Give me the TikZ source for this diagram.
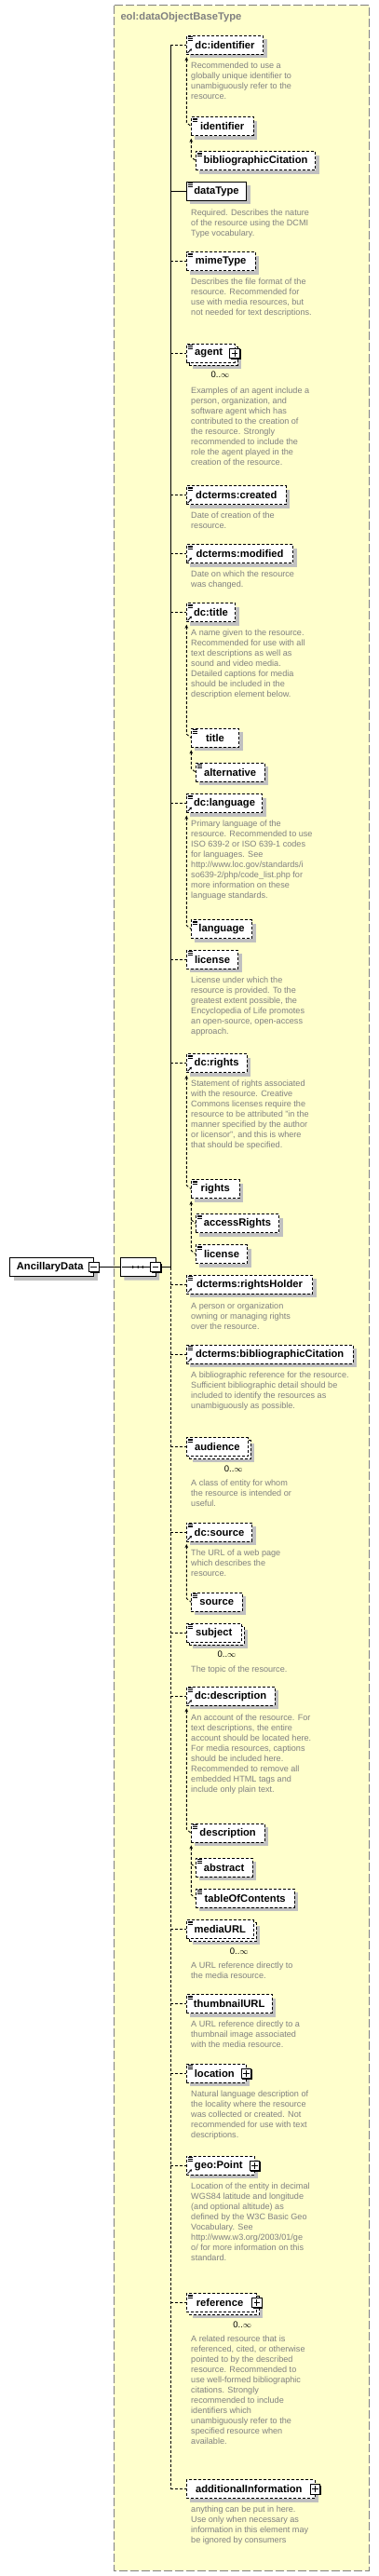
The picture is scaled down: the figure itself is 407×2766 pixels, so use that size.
\documentclass[tikz,border=0pt]{standalone}
\usepackage{fontspec}
\setmainfont{Liberation Sans}
\usetikzlibrary{positioning,calc,shadows,shapes.misc,arrows.meta}
\definecolor{typeyellow}{RGB}{255,255,204}
\definecolor{framegray}{RGB}{128,128,128}
\definecolor{docgray}{RGB}{128,128,128}
\definecolor{shadowgray}{RGB}{192,192,192}
\newcommand\elemfont{\fontsize{11.2}{13}\selectfont\bfseries}
\newcommand\docfont{\fontsize{9.1}{11}\selectfont}

\begin{document}
\begin{tikzpicture}[x=1pt,y=-1pt,
    elembase/.style={draw, fill=white, anchor=west, font=\elemfont, minimum height=20pt,
        inner sep=0pt, outer sep=0pt, line width=0.9pt, dash pattern=on 3pt off 2pt},
    elem/.style={elembase, minimum width=#1,
        drop shadow={shadow xshift=4pt, shadow yshift=-4pt, fill=shadowgray, opacity=1}},
    reqelem/.style={elem=#1, solid},
    topelem/.style={elem=#1, solid, haskids},
    multielem/.style={elembase, minimum width=#1,
        drop shadow={shadow xshift=6.5pt, shadow yshift=-6.5pt, fill=shadowgray, opacity=1},
        copy shadow={shadow xshift=3pt, shadow yshift=-3pt, fill=white, draw=black,
            line width=0.9pt, dash pattern=on 3pt off 2pt}},
    haskids/.style={execute at end node=\hspace*{4pt}},
    seqbox/.style={draw, fill=white, chamfered rectangle, chamfered rectangle xsep=6pt,
        minimum width=37.7pt, minimum height=20pt, inner sep=0pt, outer sep=0pt, line width=0.9pt,
        drop shadow={shadow xshift=4pt, shadow yshift=-4pt, fill=shadowgray, opacity=1}},
    docnote/.style={anchor=north west, font=\docfont, text=docgray, align=left, inner sep=0pt},
    occurs/.style={font=\fontsize{9.5}{11}\selectfont, inner sep=0pt},
    seqline/.style={line width=0.9pt},
    optline/.style={seqline, dash pattern=on 3pt off 2pt},
    subst/.style={optline, {Stealth[length=4pt,width=3.6pt]}-, shorten <=3pt},
    refarrow/.style={line width=0.8pt, -{Stealth[length=2.6pt,width=2.8pt]}},
    btn/.style={draw=black, fill=white, line width=0.8pt}]

\useasboundingbox (0,0) rectangle (407,2766);

% complex type frame
\draw[draw=framegray, fill=typeyellow, line width=0.9pt, dash pattern=on 9pt off 3pt]
    (122.3,5.7) rectangle (396.7,2760.3);
\node[anchor=west, font=\elemfont, text=framegray, inner sep=0pt] (typename) at (129.3,19) {eol:dataObjectBaseType};

% root and sequence
\node[topelem=90pt] (ancillary) at (10.7,1360.5) {AncillaryData};
\node[seqbox] (seq) at (148.2,1360.5) {};
\coordinate (bus) at (183.3,1360.5);

% children of the sequence
\node[elem=82.4pt] (dcidentifier) at (200.3,48.3) {dc:identifier};
\node[elem=66.7pt] (identifier) at (205.3,135.7) {identifier};
\node[elem=128.4pt] (bibcitation) at (210.3,172.7) {bibliographicCitation};
\node[reqelem=64.4pt] (datatype) at (200.3,205.3) {dataType};
\node[elem=73.7pt] (mimetype) at (200.3,280.7) {mimeType};
\node[multielem=51.7pt, haskids] (agent) at (200.3,379.3) {agent};
\node[elem=107pt] (dctcreated) at (200.3,531.7) {dcterms:created};
\node[elem=114.4pt] (dctmodified) at (200.3,594.7) {dcterms:modified};
\node[elem=52.4pt] (dctitle) at (200.3,657.7) {dc:title};
\node[elem=51.4pt] (title) at (205.3,792.3) {title};
\node[elem=73.7pt] (alternative) at (210.3,829.3) {alternative};
\node[elem=81.4pt] (dclanguage) at (200.3,862.7) {dc:language};
\node[elem=65.4pt] (language) at (205.3,997.7) {language};
\node[elem=55.4pt] (license) at (200.3,1030.3) {license};
\node[elem=64.7pt] (dcrights) at (200.3,1141.7) {dc:rights};
\node[elem=52pt] (rights) at (205.3,1276.7) {rights};
\node[elem=89.4pt] (accessrights) at (210.3,1313.7) {accessRights};
\node[elem=55.4pt] (license2) at (210.3,1346.7) {license};
\node[elem=135.4pt] (dctholder) at (200.3,1379.3) {dcterms:rightsHolder};
\node[elem=178.7pt] (dctbibcit) at (200.3,1454.3) {dcterms:bibliographicCitation};
\node[multielem=66pt] (audience) at (200.3,1553.5) {audience};
\node[elem=70.4pt] (dcsource) at (200.3,1645) {dc:source};
\node[elem=54.7pt] (source) at (205.3,1720.3) {source};
\node[multielem=58.7pt] (subject) at (200.3,1753.3) {subject};
\node[elem=94.7pt] (dcdescription) at (200.3,1821.3) {dc:description};
\node[elem=78.7pt] (description) at (205.3,1968.3) {description};
\node[elem=60.7pt] (abstract) at (210.3,2005.3) {abstract};
\node[elem=105.7pt] (toc) at (210.3,2038.3) {tableOfContents};
\node[multielem=72pt] (mediaurl) at (200.3,2071.7) {mediaURL};
\node[elem=91.7pt] (thumbnailurl) at (200.3,2151.7) {thumbnailURL};
\node[elem=64pt, haskids] (location) at (200.3,2226.3) {location};
\node[elem=73pt, haskids] (geopoint) at (200.3,2325.3) {geo:Point};
\node[multielem=75.5pt, haskids] (reference) at (200.3,2472.5) {reference};
\node[elem=138pt, haskids] (additional) at (200.3,2672.7) {additionalInformation};

% documentation
\node[docnote] (dcidentifier-doc) at (205,66.9) {Recommended to use a\\globally unique identifier to\\unambiguously refer to the\\resource.};
\node[docnote] (datatype-doc) at (205,224.2) {Required. Describes the nature\\of the resource using the DCMI\\Type vocabulary.};
\node[docnote] (mimetype-doc) at (205,298.9) {Describes the file format of the\\resource. Recommended for\\use with media resources, but\\not needed for text descriptions.};
\node[docnote] (agent-doc) at (205,415.2) {Examples of an agent include a\\person, organization, and\\software agent which has\\contributed to the creation of\\the resource. Strongly\\recommended to include the\\role the agent played in the\\creation of the resource.};
\node[docnote] (dctcreated-doc) at (205,549.9) {Date of creation of the\\resource.};
\node[docnote] (dctmodified-doc) at (205,612.9) {Date on which the resource\\was changed.};
\node[docnote] (dctitle-doc) at (205,675.9) {A name given to the resource.\\Recommended for use with all\\text descriptions as well as\\sound and video media.\\Detailed captions for media\\should be included in the\\description element below.};
\node[docnote] (dclanguage-doc) at (205,880.9) {Primary language of the\\resource. Recommended to use\\ISO 639-2 or ISO 639-1 codes\\for languages. See\\http://www.loc.gov/standards/i\\so639-2/php/code\_list.php for\\more information on these\\language standards.};
\node[docnote] (license-doc) at (205,1048.9) {License under which the\\resource is provided. To the\\greatest extent possible, the\\Encyclopedia of Life promotes\\an open-source, open-access\\approach.};
\node[docnote] (dcrights-doc) at (205,1159.9) {Statement of rights associated\\with the resource. Creative\\Commons licenses require the\\resource to be attributed "in the\\manner specified by the author\\or licensor", and this is where\\that should be specified.};
\node[docnote] (dctholder-doc) at (205,1398.2) {A person or organization\\owning or managing rights\\over the resource.};
\node[docnote] (dctbibcit-doc) at (205,1472.9) {A bibliographic reference for the resource.\\Sufficient bibliographic detail should be\\included to identify the resources as\\unambiguously as possible.};
\node[docnote] (audience-doc) at (205,1588.5) {A class of entity for whom\\the resource is intended or\\useful.};
\node[docnote] (dcsource-doc) at (205,1663.9) {The URL of a web page\\which describes the\\resource.};
\node[docnote] (subject-doc) at (205,1788.9) {The topic of the resource.};
\node[docnote] (dcdescription-doc) at (205,1840.2) {An account of the resource. For\\text descriptions, the entire\\account should be located here.\\For media resources, captions\\should be included here.\\Recommended to remove all\\embedded HTML tags and\\include only plain text.};
\node[docnote] (mediaurl-doc) at (205,2106.9) {A URL reference directly to\\the media resource.};
\node[docnote] (thumbnailurl-doc) at (205,2169.9) {A URL reference directly to a\\thumbnail image associated\\with the media resource.};
\node[docnote] (location-doc) at (205,2244.9) {Natural language description of\\the locality where the resource\\was collected or created. Not\\recommended for use with text\\descriptions.};
\node[docnote] (geopoint-doc) at (205,2343.9) {Location of the entity in decimal\\WGS84 latitude and longitude\\(and optional altitude) as\\defined by the W3C Basic Geo\\Vocabulary. See\\http://www.w3.org/2003/01/ge\\o/ for more information on this\\standard.};
\node[docnote] (reference-doc) at (205,2507.9) {A related resource that is\\referenced, cited, or otherwise\\pointed to by the described\\resource. Recommended to\\use well-formed bibliographic\\citations. Strongly\\recommended to include\\identifiers which\\unambiguously refer to the\\specified resource when\\available.};
\node[docnote] (additional-doc) at (205,2690.9) {anything can be put in here.\\Use only when necessary as\\information in this element may\\be ignored by consumers};

% occurrences
\foreach \n in {agent,audience,subject,mediaurl,reference}
    \node[occurs] (\n-occ) at ([xshift=-15.5pt,yshift=-13.4pt]\n.south east) {0..$\infty$};

% sequence connectors
\draw[seqline] (ancillary.east) -- (seq.west);
\draw[seqline] (seq.east) -- (bus);
\draw[seqline] ([xshift=2pt]seq.west) -- ([xshift=-2pt]seq.east);
\foreach \dx in {-5.5,0,5}
    \fill ([xshift=\dx pt]seq.center) circle (1.4pt);
\draw[seqline] (bus |- dcidentifier.west) -- (bus);
\draw[optline] (bus) -- (bus |- additional.west);
\draw[seqline] (bus |- datatype.west) -- (datatype.west);
\foreach \n in {dcidentifier,mimetype,agent,dctcreated,dctmodified,dctitle,dclanguage,license,dcrights,
        dctholder,dctbibcit,audience,dcsource,subject,dcdescription,mediaurl,thumbnailurl,location,
        geopoint,reference,additional}
    \draw[optline] (bus |- \n.west) -- (\n.west);

% substitution groups
\foreach \p/\c in {dcidentifier/identifier,identifier/bibcitation,dctitle/title,title/alternative,
        dclanguage/language,dcrights/rights,rights/license2,dcsource/source,
        dcdescription/description,description/toc}
    \draw[subst] (\p.south west) -- ($(\p.west |- \c.west)+(0,-4)$) -- (\c.west);
\foreach \p/\c in {rights/accessrights,description/abstract}
    \draw[optline] ($(\p.west |- \c.west)+(0,-4)$) -- (\c.west);

% icons
\foreach \n in {dcidentifier,identifier,bibcitation,datatype,mimetype,agent,dctcreated,dctmodified,
        dctitle,title,alternative,dclanguage,language,license,dcrights,rights,accessrights,license2,
        dctholder,dctbibcit,audience,dcsource,source,subject,dcdescription,description,abstract,toc,
        mediaurl,thumbnailurl,location,geopoint,reference}
    \draw[line width=0.6pt] \foreach \dy in {1.3,2.9,4.5} {([xshift=1.5pt,yshift=-\dy pt]\n.north west) -- ++(5pt,0pt)};
\foreach \n in {dcidentifier,dctcreated,dctmodified,dctitle,dclanguage,dcrights,dctholder,dctbibcit,
        dcsource,dcdescription,geopoint}
    \draw[refarrow] ([xshift=1.2pt,yshift=1.5pt]\n.south west) -- ++(4.5pt,4.5pt);
\foreach \n in {agent,location,geopoint,reference,additional}{
    \fill ([xshift=-4pt,yshift=4pt]\n.east) rectangle ([xshift=6.5pt,yshift=-6.5pt]\n.east);
    \draw[btn] ([xshift=-5.3pt,yshift=5.3pt]\n.east) rectangle ([xshift=5.3pt,yshift=-5.3pt]\n.east);
    \draw[line width=0.8pt] ([xshift=-3.3pt]\n.east) -- ([xshift=3.3pt]\n.east)
        ([yshift=-3.3pt]\n.east) -- ([yshift=3.3pt]\n.east);
}
\foreach \n in {ancillary,seq}{
    \fill ([xshift=-4pt,yshift=4pt]\n.east) rectangle ([xshift=6.5pt,yshift=-6.5pt]\n.east);
    \draw[btn] ([xshift=-5.3pt,yshift=5.3pt]\n.east) rectangle ([xshift=5.3pt,yshift=-5.3pt]\n.east);
    \draw[line width=0.8pt] ([xshift=-3.3pt]\n.east) -- ([xshift=3.3pt]\n.east);
}
\end{tikzpicture}
\end{document}
